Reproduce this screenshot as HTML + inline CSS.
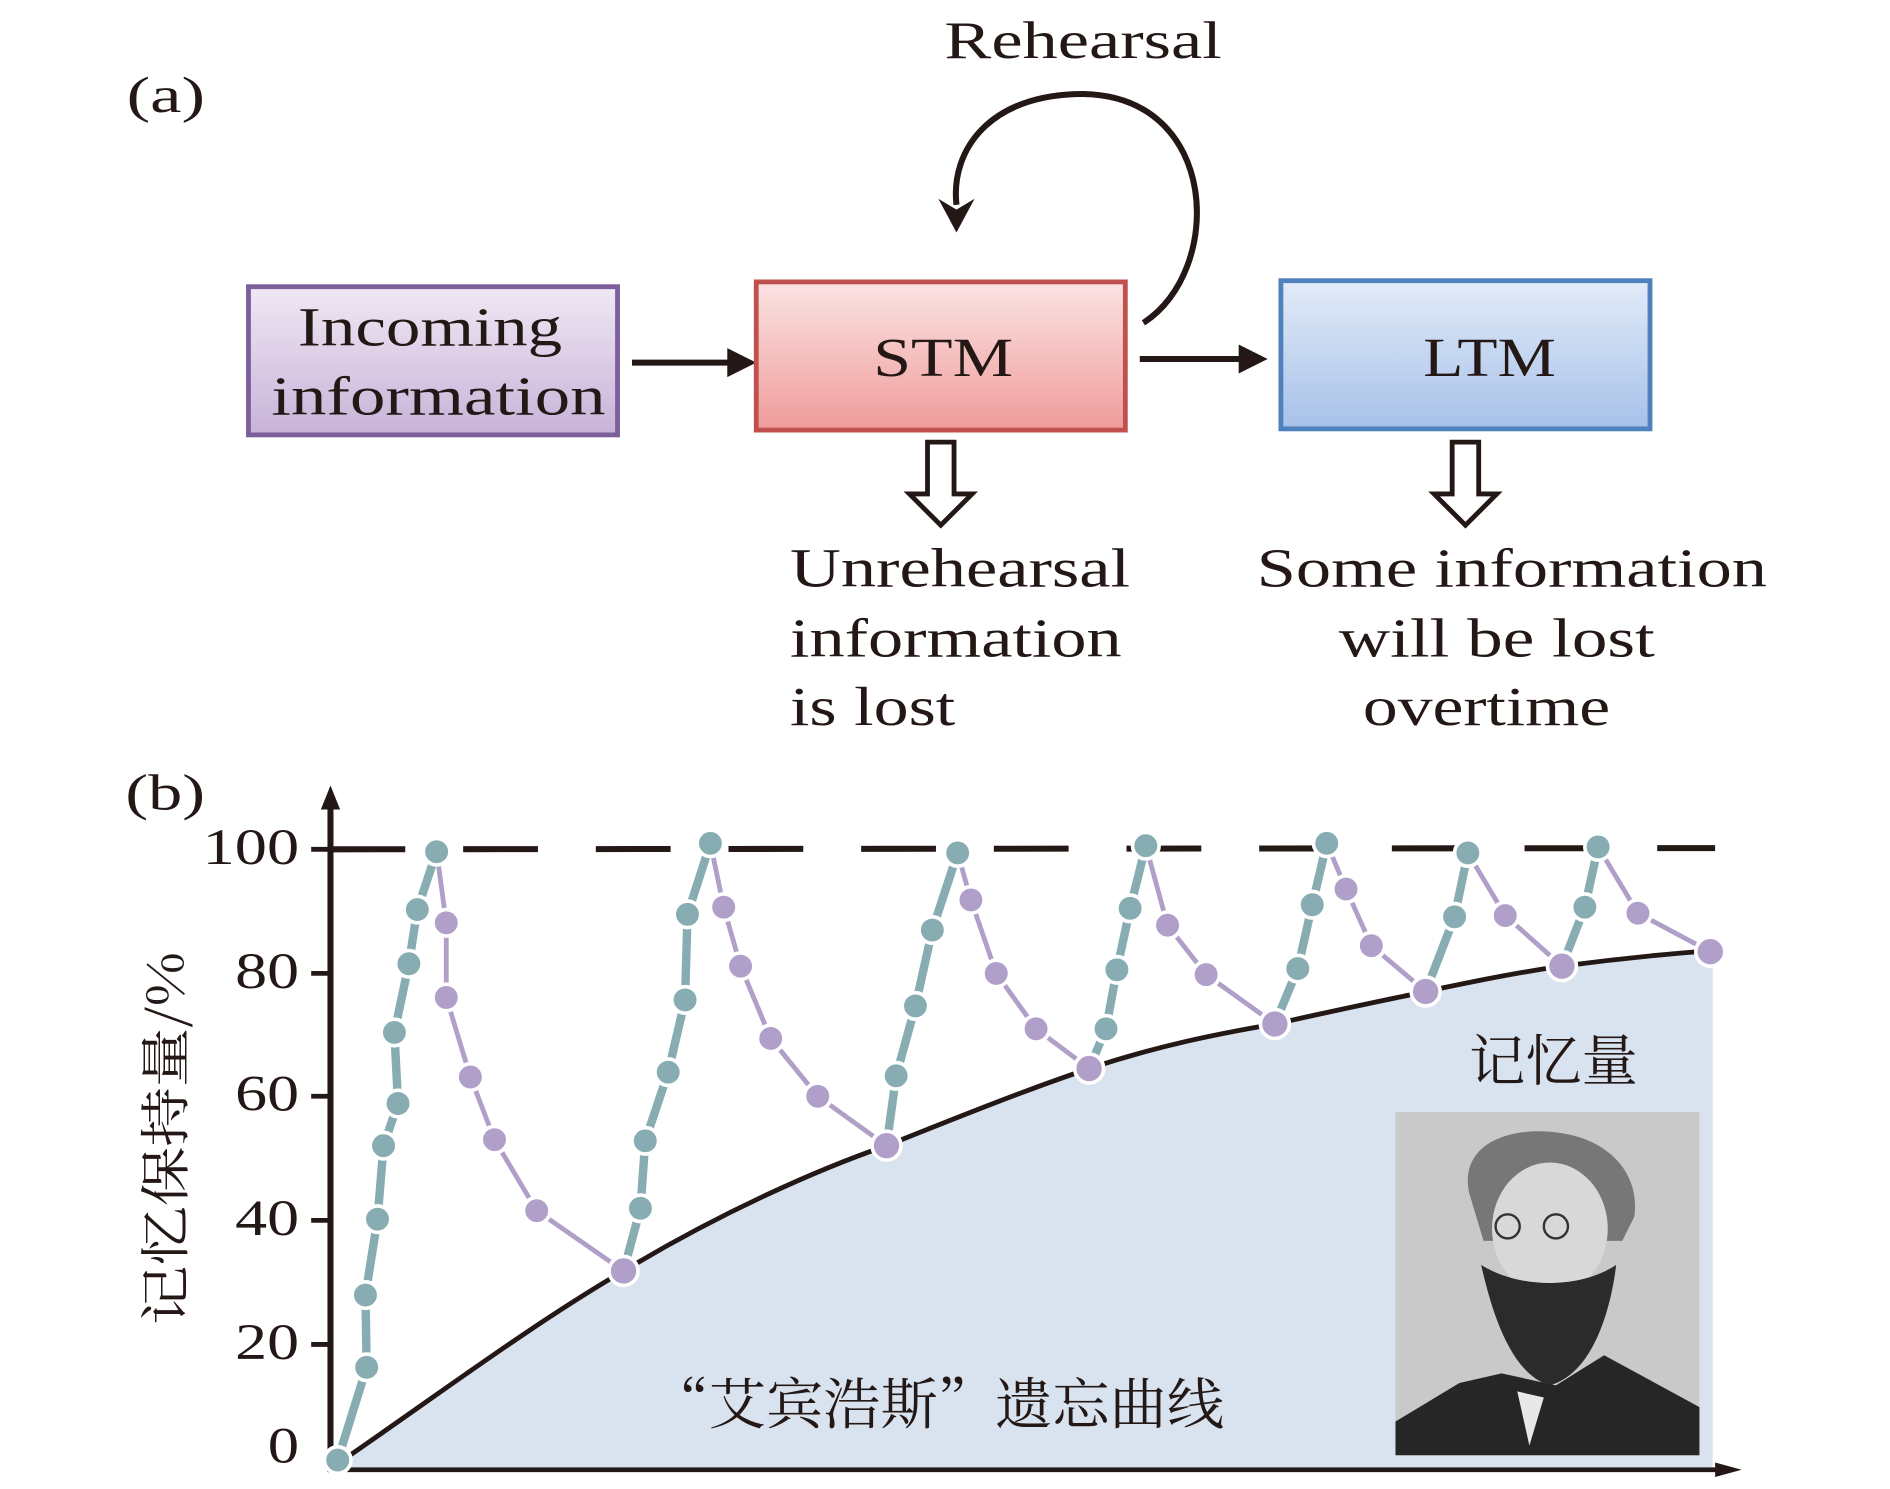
<!DOCTYPE html>
<html><head><meta charset="utf-8"><style>
html,body{margin:0;padding:0;background:#fff;}
svg{display:block;}
text{font-family:"Liberation Serif","Noto Serif CJK SC",serif;fill:#231815;}
.cjk{font-family:"Noto Serif CJK SC","Noto Sans CJK SC",serif;}
</style></head><body>
<svg width="1890" height="1489" viewBox="0 0 1567 1236" preserveAspectRatio="none" xmlns="http://www.w3.org/2000/svg">
<defs>
<linearGradient id="gp" x1="0" y1="0" x2="0" y2="1"><stop offset="0" stop-color="#f0e8f4"/><stop offset="1" stop-color="#c8b3d8"/></linearGradient>
<linearGradient id="gr" x1="0" y1="0" x2="0" y2="1"><stop offset="0" stop-color="#fbe3e3"/><stop offset="1" stop-color="#ef9c9b"/></linearGradient>
<linearGradient id="gb" x1="0" y1="0" x2="0" y2="1"><stop offset="0" stop-color="#e2ebf8"/><stop offset="1" stop-color="#a7c1e9"/></linearGradient>
</defs>
<text x="105" y="93" font-size="42" textLength="65" lengthAdjust="spacingAndGlyphs">(a)</text>
<text x="783" y="48" font-size="44" textLength="230" lengthAdjust="spacingAndGlyphs">Rehearsal</text>
<path d="M948,268 C1015,225 1012,80 898,78 C820,78 788,125 793,170" fill="none" stroke="#231815" stroke-width="5"/>
<path d="M778,165 L793,193 L808,165 L793,174 Z" fill="#231815"/>
<rect x="206" y="238" width="306" height="123" fill="url(#gp)" stroke="#7b5e9b" stroke-width="4"/>
<text x="247" y="287" font-size="46" textLength="219" lengthAdjust="spacingAndGlyphs">Incoming</text>
<text x="225" y="344" font-size="46" textLength="277" lengthAdjust="spacingAndGlyphs">information</text>
<line x1="524" y1="301" x2="605" y2="301" stroke="#231815" stroke-width="5"/>
<path d="M603,289 L627,301 L603,313 Z" fill="#231815"/>
<rect x="627" y="234" width="306" height="123" fill="url(#gr)" stroke="#c0504d" stroke-width="4"/>
<text x="724" y="312" font-size="46" textLength="116" lengthAdjust="spacingAndGlyphs">STM</text>
<line x1="945" y1="298" x2="1030" y2="298" stroke="#231815" stroke-width="5"/>
<path d="M1027,286 L1051,298 L1027,310 Z" fill="#231815"/>
<rect x="1062" y="233" width="306" height="123" fill="url(#gb)" stroke="#4f81bd" stroke-width="4"/>
<text x="1180" y="312" font-size="46" textLength="110" lengthAdjust="spacingAndGlyphs">LTM</text>
<path d="M769,367 L791,367 L791,410 L806,410 L780,436 L754,410 L769,410 Z" fill="#fff" stroke="#231815" stroke-width="4"/>
<path d="M1204,367 L1226,367 L1226,410 L1241,410 L1215,436 L1189,410 L1204,410 Z" fill="#fff" stroke="#231815" stroke-width="4"/>
<text x="655" y="487" font-size="46" textLength="282" lengthAdjust="spacingAndGlyphs">Unrehearsal</text>
<text x="655" y="545" font-size="46" textLength="275" lengthAdjust="spacingAndGlyphs">information</text>
<text x="655" y="602" font-size="46" textLength="137" lengthAdjust="spacingAndGlyphs">is lost</text>
<text x="1042" y="487" font-size="46" textLength="423" lengthAdjust="spacingAndGlyphs">Some information</text>
<text x="1110" y="545" font-size="46" textLength="262" lengthAdjust="spacingAndGlyphs">will be lost</text>
<text x="1130" y="602" font-size="46" textLength="205" lengthAdjust="spacingAndGlyphs">overtime</text>
<text x="104" y="672" font-size="42" textLength="66" lengthAdjust="spacingAndGlyphs">(b)</text>
<path d="M280,1215 C360,1160 440,1100 517,1055 C600,1005 680,970 735,951 C800,925 850,905 903,887 C960,868 1010,858 1057,850 C1110,838 1150,830 1182,823 C1230,813 1260,807 1295,802 C1340,796 1380,792 1420,789 L1420,1219 L280,1219 Z" fill="#d9e3ef"/>
<path d="M280,1215 C360,1160 440,1100 517,1055 C600,1005 680,970 735,951 C800,925 850,905 903,887 C960,868 1010,858 1057,850 C1110,838 1150,830 1182,823 C1230,813 1260,807 1295,802 C1340,796 1380,792 1420,789" fill="none" stroke="#231815" stroke-width="4"/>
<line x1="274" y1="1222" x2="274" y2="670" stroke="#231815" stroke-width="5"/>
<path d="M266,672 L274,652 L282,672 Z" fill="#231815"/>
<line x1="272" y1="1220" x2="1425" y2="1220" stroke="#231815" stroke-width="4"/>
<path d="M1422,1214 L1444,1220 L1422,1226 Z" fill="#231815"/>
<g stroke="#231815" stroke-width="4">
<line x1="258" y1="705" x2="274" y2="705"/><line x1="258" y1="808" x2="274" y2="808"/><line x1="258" y1="910" x2="274" y2="910"/><line x1="258" y1="1013" x2="274" y2="1013"/><line x1="258" y1="1116" x2="274" y2="1116"/>
</g>
<g font-size="42">
<text x="168" y="717" textLength="80" lengthAdjust="spacingAndGlyphs">100</text><text x="195" y="820" textLength="53" lengthAdjust="spacingAndGlyphs">80</text><text x="195" y="922" textLength="53" lengthAdjust="spacingAndGlyphs">60</text><text x="195" y="1025" textLength="53" lengthAdjust="spacingAndGlyphs">40</text><text x="195" y="1128" textLength="53" lengthAdjust="spacingAndGlyphs">20</text><text x="222" y="1214" textLength="26" lengthAdjust="spacingAndGlyphs">0</text>
</g>
<text class="cjk" x="0" y="0" font-size="42" text-anchor="middle" transform="translate(152,945) rotate(-90)" textLength="310" lengthAdjust="spacingAndGlyphs">记忆保持量/%</text>
<line x1="274" y1="705" x2="1422" y2="704" stroke="#231815" stroke-width="5" stroke-dasharray="62,48"/>
<g fill="none" stroke="#b09fc9" stroke-width="4">
<polyline points="362,707 370,766 370,828 390,894 410,946 445,1005 517,1055"/>
<polyline points="589,700 600,753 614,802 639,862 678,910 735,951"/>
<polyline points="794,708 805,747 826,808 859,854 903,887"/>
<polyline points="950,702 968,768 1000,809 1057,850"/>
<polyline points="1100,700 1116,738 1137,785 1182,823"/>
<polyline points="1217,708 1248,760 1295,802"/>
<polyline points="1325,703 1358,758 1418,790"/>
</g>
<g fill="none" stroke="#87adb2" stroke-width="7">
<polyline points="280,1212 304,1135 303,1075 313,1012 318,951 330,916 327,857 339,800 346,755 362,707"/>
<polyline points="517,1055 531,1003 535,947 554,890 568,830 570,759 589,700"/>
<polyline points="735,951 743,893 759,835 773,772 794,708"/>
<polyline points="903,887 917,854 926,805 937,754 950,702"/>
<polyline points="1057,850 1076,804 1088,751 1100,700"/>
<polyline points="1182,823 1206,761 1217,708"/>
<polyline points="1295,802 1314,753 1325,703"/>
</g>
<g fill="#b09fc9" stroke="#fff" stroke-width="3">
<circle cx="370" cy="766" r="11"/><circle cx="370" cy="828" r="11"/><circle cx="390" cy="894" r="11"/><circle cx="410" cy="946" r="11"/><circle cx="445" cy="1005" r="11"/><circle cx="517" cy="1055" r="12"/>
<circle cx="600" cy="753" r="11"/><circle cx="614" cy="802" r="11"/><circle cx="639" cy="862" r="11"/><circle cx="678" cy="910" r="11"/><circle cx="735" cy="951" r="12"/>
<circle cx="805" cy="747" r="11"/><circle cx="826" cy="808" r="11"/><circle cx="859" cy="854" r="11"/><circle cx="903" cy="887" r="12"/>
<circle cx="968" cy="768" r="11"/><circle cx="1000" cy="809" r="11"/><circle cx="1057" cy="850" r="12"/>
<circle cx="1116" cy="738" r="11"/><circle cx="1137" cy="785" r="11"/><circle cx="1182" cy="823" r="12"/>
<circle cx="1248" cy="760" r="11"/><circle cx="1295" cy="802" r="12"/>
<circle cx="1358" cy="758" r="11"/><circle cx="1418" cy="790" r="12"/>
</g>
<g fill="#87adb2" stroke="#fff" stroke-width="3">
<circle cx="280" cy="1212" r="11"/><circle cx="304" cy="1135" r="11"/><circle cx="303" cy="1075" r="11"/><circle cx="313" cy="1012" r="11"/><circle cx="318" cy="951" r="11"/><circle cx="330" cy="916" r="11"/><circle cx="327" cy="857" r="11"/><circle cx="339" cy="800" r="11"/><circle cx="346" cy="755" r="11"/><circle cx="362" cy="707" r="11"/>
<circle cx="531" cy="1003" r="11"/><circle cx="535" cy="947" r="11"/><circle cx="554" cy="890" r="11"/><circle cx="568" cy="830" r="11"/><circle cx="570" cy="759" r="11"/><circle cx="589" cy="700" r="11"/>
<circle cx="743" cy="893" r="11"/><circle cx="759" cy="835" r="11"/><circle cx="773" cy="772" r="11"/><circle cx="794" cy="708" r="11"/>
<circle cx="917" cy="854" r="11"/><circle cx="926" cy="805" r="11"/><circle cx="937" cy="754" r="11"/><circle cx="950" cy="702" r="11"/>
<circle cx="1076" cy="804" r="11"/><circle cx="1088" cy="751" r="11"/><circle cx="1100" cy="700" r="11"/>
<circle cx="1206" cy="761" r="11"/><circle cx="1217" cy="708" r="11"/>
<circle cx="1314" cy="753" r="11"/><circle cx="1325" cy="703" r="11"/>
</g>
<text class="cjk" x="1218" y="897" font-size="46" textLength="140" lengthAdjust="spacingAndGlyphs">记忆量</text>
<rect x="1157" y="923" width="252" height="285" fill="#c9c9c9"/>
<path d="M1157,1180 L1210,1148 L1245,1140 L1290,1150 L1330,1125 L1409,1168 L1409,1208 L1157,1208 Z" fill="#262626"/>
<path d="M1258,1155 L1268,1200 L1280,1160 Z" fill="#e8e8e8"/>
<path d="M1218,990 C1210,950 1250,935 1290,940 C1335,945 1360,975 1355,1010 L1345,1030 L1230,1030 Z" fill="#777"/>
<ellipse cx="1285" cy="1020" rx="48" ry="55" fill="#d8d8d8"/>
<path d="M1228,1050 C1235,1080 1250,1140 1285,1150 C1320,1140 1335,1090 1340,1050 C1310,1070 1260,1070 1228,1050 Z" fill="#2b2b2b"/>
<circle cx="1250" cy="1018" r="10" fill="none" stroke="#333" stroke-width="2"/>
<circle cx="1290" cy="1018" r="10" fill="none" stroke="#333" stroke-width="2"/>
<text class="cjk" x="540" y="1182" font-size="46" textLength="475" lengthAdjust="spacingAndGlyphs">“艾宾浩斯”遗忘曲线</text>
</svg>
</body></html>
